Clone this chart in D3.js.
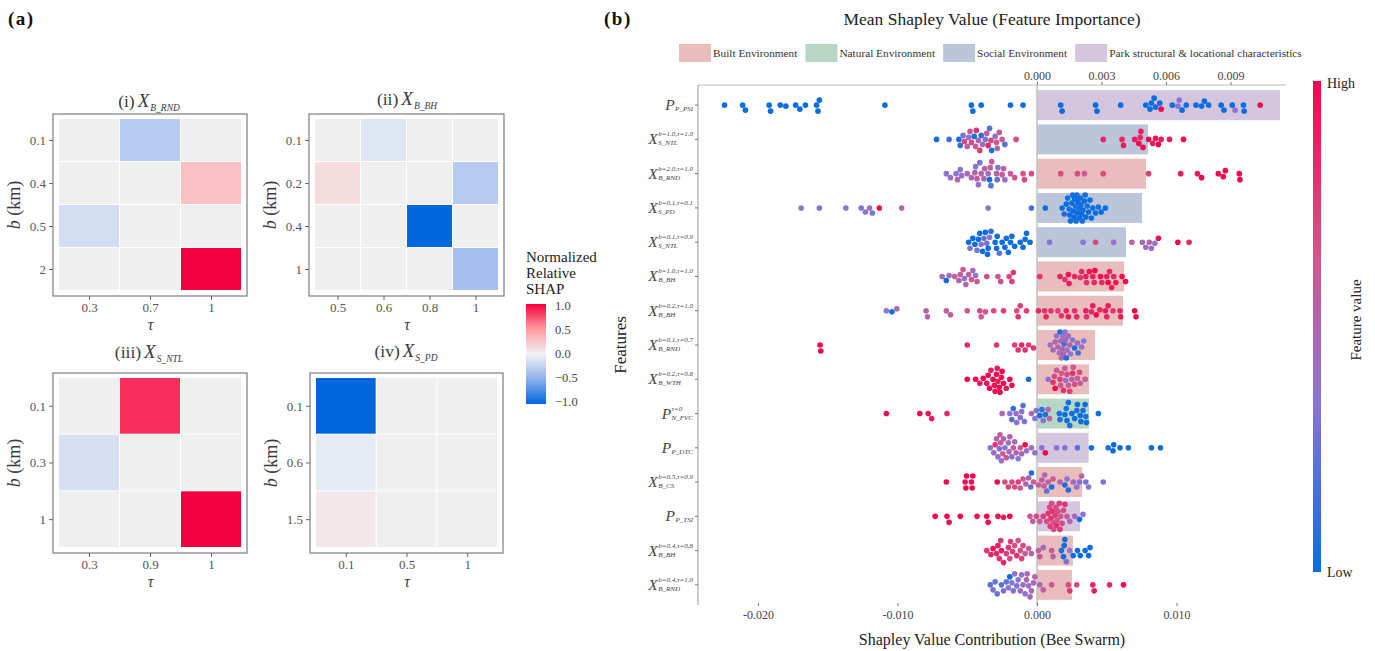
<!DOCTYPE html>
<html lang="en">
<head>
<meta charset="UTF-8">
<title>SHAP heatmaps and bee swarm</title>
<style>
  body { margin: 0; background: #fff; }
  svg text { font-family: "Liberation Serif", "DejaVu Serif", serif; }
</style>
</head>
<body>
<script src="https://cdn.jsdelivr.net/npm/d3@7"></script>
<script>
// ---------- panel (a): normalized relative SHAP per (b, tau) ----------
const rndB = [0.1, 0.4, 0.5, 2], rndTau = [0.3, 0.7, 1];
const rndVals = [[null, -0.3, null], [null, null, 0.28], [-0.16, null, null], [null, null, 1.0]];
const bhB = [0.1, 0.2, 0.4, 1], bhTau = [0.5, 0.6, 0.8, 1];
const bhVals = [[null, -0.1, null, null], [0.12, null, null, -0.3], [null, null, -1.0, null], [null, null, null, -0.38]];
const ntlB = [0.1, 0.3, 1], ntlTau = [0.3, 0.9, 1];
const ntlVals = [[null, 0.85, null], [-0.14, null, null], [null, null, 1.0]];
const pdB = [0.1, 0.6, 1.5], pdTau = [0.1, 0.5, 1];
const pdVals = [[-1.0, null, null], [-0.06, null, null], [0.06, null, null]];
const legendTicks = [1.0, 0.5, 0.0, -0.5, -1.0];

// ---------- panel (b): features, mean |SHAP| (x1e-3) and bee swarm ----------
const featBase = ["P", "X", "X", "X", "X", "X", "X", "X", "X", "P", "P", "X", "P", "X", "X"];
const featSup = ["", "b=1.0,τ=1.0", "b=2.0,τ=1.0", "b=0.1,τ=0.1", "b=0.1,τ=0.9", "b=1.0,τ=1.0", "b=0.2,τ=1.0",
  "b=0.1,τ=0.7", "b=0.2,τ=0.8", "τ=0", "", "b=0.5,τ=0.9", "", "b=0.4,τ=0.8", "b=0.4,τ=1.0"];
const featSub = ["P_PSI", "S_NTL", "B_RND", "S_PD", "S_NTL", "B_BH", "B_BH", "B_RND", "B_WTH", "N_FVC",
  "P_DTC", "B_CS", "P_TSI", "B_BH", "B_RND"];
const featGroup = ["Park", "Social", "Built", "Social", "Social", "Built", "Built", "Built", "Built", "Natural",
  "Park", "Built", "Park", "Built", "Built"];
const meanAbsShap = [11.3, 5.16, 5.07, 4.88, 4.14, 4.05, 4.0, 2.7, 2.42, 2.42, 2.4, 2.1, 2.0, 1.67, 1.63];
const groupKeys = ["Built", "Natural", "Social", "Park"];
const groupNames = ["Built Environment", "Natural Environment", "Social Environment", "Park structural & locational characteristics"];
const groupColors = ["#eabdbd", "#b8d6c5", "#bcc6db", "#d5c6e0"];
const topTicks = [0, 3, 6, 9];
const bottomTicks = [-20, -10, 0, 10];

// each point: [SHAP value x1e-3, normalized feature value 0..1]
const swarm = [
  [[-22.4,0],[-21.1,0],[-20.9,0],[-19.2,0],[-19.1,0],[-18.4,0],[-18.0,0],[-17.3,0],[-17.0,0],[-16.6,0],[-15.8,0],[-15.7,0],[-15.6,0],[-10.9,0],[-4.7,0],[-4.6,0],[-4.0,0],[-1.9,0],[-1.0,0],[1.7,0],[1.8,0],[4.2,0],[4.3,0],[6.0,0],[7.8,0],[8.1,0],[8.2,0],[8.4,0],[8.5,0],[8.8,0],[8.9,1],[9.7,0],[10.1,0.35],[10.2,0.35],[10.4,0],[10.7,0],[11.4,0],[11.8,0],[12.0,0],[12.3,0],[13.2,0],[13.4,0],[14.0,0],[14.2,0.35],[14.8,0],[14.85,0],[16.0,1]],
  [[-7.2,0],[-6.3,0.15],[-5.6,0.05],[-5.5,0.1],[-5.3,0.3],[-5.2,0.7],[-5.0,0.55],[-4.9,0.4],[-4.8,0.6],[-4.7,0.7],[-4.5,0.05],[-4.4,0.6],[-4.35,0.8],[-4.2,0.45],[-4.1,0.75],[-4.0,0.1],[-3.9,0.5],[-3.7,0.3],[-3.6,0.6],[-3.5,0.85],[-3.4,0.2],[-3.3,0.7],[-3.25,0.05],[-3.0,0.4],[-2.9,0.65],[-2.85,0.45],[-2.7,0.55],[-2.5,0.6],[-2.3,0.2],[-1.5,0.7],[4.75,0.85],[6.1,0.85],[6.2,0.9],[7.0,0.9],[7.3,1],[7.4,0.85],[7.45,0.9],[7.6,1],[8.0,1],[8.3,0.9],[8.5,0.95],[8.7,1],[8.9,0.9],[9.5,0.9],[10.5,1]],
  [[-6.5,0.35],[-6.2,0.4],[-5.8,0.35],[-5.7,0.5],[-5.5,0.35],[-5.4,0.4],[-5.0,0.5],[-4.7,0.45],[-4.45,0.55],[-4.4,0.35],[-4.3,0.6],[-4.2,0.4],[-4.1,0.3],[-4.0,0.5],[-3.8,0.5],[-3.75,0.55],[-3.5,0.45],[-3.4,0],[-3.35,0.55],[-3.3,0.2],[-3.25,0.6],[-2.9,0.55],[-2.85,0.25],[-2.8,0.3],[-2.5,0.6],[-2.4,0.55],[-2.3,0.4],[-1.9,0.6],[-1.6,0.65],[-1.0,0.65],[-0.9,0.7],[-0.4,0.7],[1.7,0.7],[2.9,0.7],[3.4,0.65],[4.75,0.7],[8.0,0.75],[10.3,0.9],[11.5,0.9],[11.8,1],[13.0,1],[13.35,1],[13.5,1],[14.5,1],[14.55,1]],
  [[-16.9,0.35],[-15.6,0.3],[-13.7,0.35],[-12.6,0.3],[-12.3,0.35],[-12.0,0.4],[-11.8,0.3],[-11.3,1],[-9.7,0.5],[-3.5,0.35],[-0.4,0.15],[0.6,0],[1.8,0],[1.95,0.05],[2.1,0],[2.2,0],[2.3,0.05],[2.35,0],[2.4,0],[2.5,0],[2.55,0.05],[2.6,0],[2.65,0],[2.7,0],[2.75,0.05],[2.8,0],[2.85,0],[2.9,0],[2.95,0],[3.0,0.05],[3.05,0],[3.1,0],[3.15,0],[3.2,0],[3.25,0.05],[3.3,0],[3.4,0],[3.45,0],[3.5,0],[3.6,0.05],[3.7,0],[3.8,0],[3.9,0],[4.0,0],[4.2,0],[4.4,0.05],[4.6,0],[4.9,0]],
  [[-4.9,0],[-4.8,0.3],[-4.6,0],[-4.45,0],[-4.3,0.3],[-4.2,0],[-4.1,0],[-4.0,0.35],[-3.9,0],[-3.8,0.25],[-3.7,0],[-3.6,0.3],[-3.55,0],[-3.5,0],[-3.4,0.35],[-3.3,0.1],[-3.0,0],[-2.9,0],[-2.85,0],[-2.7,0.2],[-2.5,0],[-2.3,0],[-2.2,0],[-2.05,0],[-1.9,0],[-1.8,0],[-1.6,0],[-1.2,0],[-1.0,0],[-0.85,0],[-0.75,0],[-0.5,0],[0.9,0.35],[3.3,0.35],[4.2,0.7],[5.5,0.4],[6.8,0.55],[7.55,0.45],[7.8,0.4],[8.05,0.5],[8.2,0.45],[8.45,0.35],[8.7,1],[10.1,1],[10.9,0.85]],
  [[-6.8,0.45],[-6.5,0],[-6.3,0.4],[-5.9,0.55],[-5.6,0.5],[-5.5,0.6],[-5.3,0.65],[-5.2,0.35],[-5.1,0.5],[-4.9,0.55],[-4.7,0.65],[-4.6,0.45],[-4.4,0.35],[-4.3,0.6],[-3.6,0.7],[-2.8,0.6],[-2.6,0.7],[-2.0,0.7],[-1.8,0.75],[-1.7,0.8],[0.2,0.8],[1.65,0.85],[2.0,0.8],[2.25,0.95],[2.3,0.9],[2.7,0.85],[3.1,0.8],[3.2,0.85],[3.5,0.9],[3.55,0.8],[3.75,0.95],[4.0,0.9],[4.1,0.85],[4.15,1],[4.55,1],[4.65,0.85],[5.0,0.9],[5.1,1],[5.2,0.85],[5.35,0.9],[5.5,0.85],[5.65,0.95],[6.1,1],[6.35,1]],
  [[-10.8,0.35],[-10.4,0],[-10.05,0.5],[-7.95,0.55],[-7.85,0.5],[-6.5,0.6],[-6.2,0.55],[-5.0,0.65],[-4.1,0.7],[-4.0,0.6],[-3.7,0.65],[-3.1,0.7],[-2.4,0.75],[-1.45,0.7],[-1.35,0.8],[-1.2,0.75],[-0.75,0.75],[0.1,0.85],[0.55,0.8],[0.65,0.85],[1.0,0.8],[1.5,0.75],[1.75,0.8],[2.1,0.85],[2.25,0.9],[2.7,0.8],[2.85,0.85],[3.5,0.9],[3.55,0.8],[3.9,0.85],[4.0,0.9],[4.25,1],[4.5,0.85],[4.9,0.9],[5.0,0.85],[5.1,0.9],[5.45,0.8],[5.95,0.85],[6.0,0.9],[7.0,1],[7.1,1]],
  [[-15.55,1],[-15.5,1],[-5.0,0.85],[-2.9,0.8],[-1.6,0.75],[-1.35,0.8],[-1.1,0.85],[-0.85,0.8],[-0.6,0.75],[-0.25,0.8],[0.95,0.4],[1.15,0.45],[1.3,0.55],[1.4,0.35],[1.5,0.5],[1.6,0.4],[1.65,0.05],[1.7,0.45],[1.75,0.5],[1.8,0.5],[1.85,0.4],[1.9,0.55],[1.95,0.15],[2.0,0.35],[2.05,0.45],[2.1,0.05],[2.15,0.4],[2.25,0.45],[2.35,0.5],[2.4,0.4],[2.55,0.35],[2.7,0.05],[2.9,0.4],[2.95,0.15],[3.2,0.4],[3.35,0.35]],
  [[-5.0,1],[-4.4,1],[-4.1,0.9],[-3.85,1],[-3.6,0.95],[-3.5,1],[-3.4,1],[-3.3,0.9],[-3.15,1],[-3.05,0.95],[-3.0,0.95],[-2.9,1],[-2.85,0.9],[-2.8,0.9],[-2.7,1],[-2.65,1],[-2.55,0.95],[-2.5,1],[-2.4,1],[-2.2,0.9],[-1.95,1],[-1.8,0.95],[-0.6,0],[0.8,0.35],[1.15,0.8],[1.25,0.7],[1.3,1],[1.4,0.6],[1.65,0.75],[1.7,0.6],[1.75,0.65],[1.9,0.8],[2.0,0.55],[2.05,0.45],[2.15,0.7],[2.25,0.6],[2.35,0.75],[2.5,0.5],[2.55,0.8],[2.6,0.65],[2.7,0.7],[2.9,0.6],[3.05,0.7],[3.1,0.55],[3.45,0.6]],
  [[-10.8,1],[-8.4,1],[-7.8,0.95],[-7.55,0.9],[-6.45,0.85],[-2.5,0.5],[-1.95,0.35],[-1.8,0.2],[-1.7,0.1],[-1.5,0.4],[-1.45,0.4],[-1.2,0.3],[-1.1,0.35],[-1.0,0.2],[-0.9,0.3],[-0.4,0.5],[-0.15,0.35],[-0.05,0.3],[0.2,0.05],[0.35,0.1],[0.45,0.35],[0.6,0.05],[0.8,0.5],[0.9,0.55],[1.6,0.05],[1.65,0.05],[2.0,0],[2.1,0.05],[2.15,0],[2.25,0],[2.35,0.05],[2.5,0],[2.7,0],[2.85,0.05],[2.9,0],[3.1,0],[3.15,0],[3.3,0.05],[3.45,0],[3.5,0.05],[3.55,0],[4.4,0]],
  [[-3.35,0.35],[-3.1,0.45],[-3.0,0.8],[-2.9,0.5],[-2.8,0.35],[-2.7,0.3],[-2.65,0.6],[-2.6,0.65],[-2.55,0.4],[-2.45,0.6],[-2.4,0.55],[-2.3,0.35],[-2.2,0.65],[-2.05,0.4],[-2.0,0.5],[-1.95,0.55],[-1.8,0.3],[-1.7,0.6],[-1.6,0.45],[-1.5,0.55],[-1.35,0.35],[-1.2,0.6],[-1.1,0.5],[-0.85,1],[-0.75,0.4],[-0.4,0.45],[-0.15,0.35],[0.35,0.35],[0.6,1],[1.4,0.35],[2.0,0.3],[2.9,0.2],[3.9,0],[5.1,0.05],[5.45,0],[5.5,0],[5.95,0],[6.55,0],[8.2,0],[8.85,0]],
  [[-6.5,1],[-5.15,0.95],[-5.1,1],[-5.05,1],[-4.7,0.95],[-4.65,1],[-4.6,1],[-2.85,1],[-2.3,0.7],[-2.05,0.75],[-1.8,0.7],[-1.6,0.7],[-1.35,0.75],[-1.2,0.65],[-1.0,0.65],[-0.8,0.55],[-0.6,0.5],[-0.45,0.2],[-0.4,0.05],[-0.25,0.6],[0.1,0.6],[0.35,0.55],[0.5,0.6],[0.55,0.5],[0.7,0.2],[0.8,0.55],[1.05,0.05],[1.15,0.6],[1.65,0.5],[2.0,0.05],[2.15,0.4],[2.25,0.05],[2.6,0.45],[2.85,0.35],[3.05,0.3],[3.2,0.55],[3.5,0.3],[3.7,0.35],[4.75,0.3]],
  [[-7.3,1],[-6.45,1],[-6.3,0.95],[-5.5,1],[-4.3,0.95],[-3.6,1],[-3.5,0.95],[-2.8,0.95],[-2.4,0.9],[-1.95,1],[-0.5,0.6],[-0.3,0.55],[-0.05,0.7],[0.2,0.6],[0.45,0.75],[0.7,0.7],[0.8,0.8],[0.9,0.7],[0.95,0.75],[1.0,0.8],[1.05,0.7],[1.1,0.8],[1.15,0.65],[1.2,0.7],[1.3,0.75],[1.35,0.7],[1.4,0.8],[1.45,0.65],[1.5,0.7],[1.6,0.75],[1.65,0.75],[1.7,0.65],[1.8,0.7],[1.9,0.7],[2.0,0.8],[2.15,0.6],[2.35,0.5],[2.7,0.45],[3.05,0],[3.3,0.35]],
  [[-3.6,0.8],[-3.3,0.85],[-3.15,1],[-2.9,0.85],[-2.8,0.9],[-2.7,0.8],[-2.6,0.8],[-2.55,0.9],[-2.4,0.85],[-2.2,0.75],[-2.05,0.8],[-1.95,0.7],[-1.9,0.75],[-1.75,0.75],[-1.6,0.7],[-1.45,0.8],[-1.35,0.65],[-1.2,0.7],[-1.1,0.75],[-1.0,0.7],[-0.85,0.6],[-0.6,0.65],[-0.4,0.5],[0.1,0.55],[0.2,0.6],[0.45,0.45],[1.05,0.6],[1.15,0.55],[1.75,0.05],[1.9,0],[1.95,0],[2.0,0],[2.1,0.3],[2.35,0.35],[2.6,0],[2.9,0],[3.1,0],[3.45,0],[3.7,0],[3.8,0]],
  [[-3.35,0.2],[-3.15,0.3],[-3.0,0.25],[-2.85,0.25],[-2.55,0.2],[-2.4,0.3],[-2.2,0.25],[-2.05,0.35],[-1.95,0],[-1.8,0.35],[-1.7,0.3],[-1.6,0.4],[-1.45,0.3],[-1.35,0.35],[-1.2,0.45],[-1.1,0.4],[-1.0,0.4],[-0.85,0.35],[-0.75,0.5],[-0.7,0.45],[-0.6,0.4],[-0.5,0.45],[-0.4,0.5],[-0.25,0.45],[-0.15,0.55],[0.2,0.5],[0.45,0.55],[1.05,0.65],[2.25,0.7],[2.35,0.75],[2.85,0.7],[4.0,0.85],[4.1,0.9],[5.2,0.85],[6.2,1]]
];

const W = 1375, H = 651;
const serif = '"Liberation Serif", "DejaVu Serif", serif';
const textCol = "#3a3a3a";

const svg = d3.select("body").append("svg")
  .attr("width", W).attr("height", H)
  .attr("viewBox", `0 0 ${W} ${H}`);

const heatColor = d3.scaleLinear().domain([-1, -0.5, 0, 0.5, 1])
  .range(["#0066dd", "#8fb0ee", "#f2f2f4", "#ff9a9e", "#f5003f"]);
const naColor = "#efefef";
const fvColor = d3.scaleLinear().domain([0, 0.35, 0.65, 1]).range(["#0a6de0", "#8b75d3", "#d3558b", "#f5054b"]);

// italic letter with optional superscript and subscript
function mathLabel(parent, base, sup, sub, o) {
  const g = parent.append("g");
  const bt = g.append("text").attr("font-size", o.base).attr("font-style", "italic")
    .attr("fill", o.fill).text(base);
  const bw = bt.node().getComputedTextLength();
  let w = bw;
  [[sup, o.supDy], [sub, o.subDy]].forEach(([s, dy]) => {
    if (!s) return;
    const t = g.append("text").attr("x", bw + o.gap).attr("y", dy)
      .attr("font-size", o.small).attr("font-style", "italic").attr("fill", o.fill).text(s);
    w = Math.max(w, bw + o.gap + t.node().getComputedTextLength());
  });
  return { g, w };
}

// ---------- panel (a) ----------
svg.append("text").attr("x", 8).attr("y", 25).attr("font-size", 19).attr("font-weight", "bold")
  .attr("letter-spacing", 1.5).attr("fill", "#111").text("(a)");

const heatPanels = [
  { tag: "(i)", sub: "B_RND", b: rndB, tau: rndTau, vals: rndVals, cells: [59, 242, 119, 291], tx: 149, ty: 107 },
  { tag: "(ii)", sub: "B_BH", b: bhB, tau: bhTau, vals: bhVals, cells: [315, 499, 119, 291], tx: 407, ty: 105 },
  { tag: "(iii)", sub: "S_NTL", b: ntlB, tau: ntlTau, vals: ntlVals, cells: [59, 242, 378, 548], tx: 149, ty: 358 },
  { tag: "(iv)", sub: "S_PD", b: pdB, tau: pdTau, vals: pdVals, cells: [316, 498, 378, 548], tx: 406, ty: 357 }
];

function drawHeat(p) {
  const [x0, x1, y0, y1] = p.cells;
  const g = svg.append("g");
  const x = d3.scaleBand().domain(p.tau).range([x0, x1]);
  const y = d3.scaleBand().domain(p.b).range([y0, y1]);
  const fl = x0 - 6, fr = x1 + 5, ft = y0 - 5, fb = y1 + 5;

  g.append("rect").attr("x", fl).attr("y", ft).attr("width", fr - fl).attr("height", fb - ft)
    .attr("fill", "#fff").attr("stroke", "#7c7c7c").attr("stroke-width", 1.2);

  const cells = [];
  p.vals.forEach((row, i) => row.forEach((v, j) => cells.push({ b: p.b[i], t: p.tau[j], v })));
  g.selectAll("rect.cell").data(cells).join("rect").attr("class", "cell")
    .attr("x", d => x(d.t)).attr("y", d => y(d.b))
    .attr("width", x.bandwidth() - 1).attr("height", y.bandwidth() - 1)
    .attr("fill", d => d.v == null ? naColor : heatColor(d.v));

  const ya = g.append("g").attr("transform", `translate(${fl},0)`)
    .call(d3.axisLeft(y).tickSize(4).tickPadding(3));
  const xa = g.append("g").attr("transform", `translate(0,${fb})`)
    .call(d3.axisBottom(x).tickSize(4).tickPadding(3));
  [ya, xa].forEach(a => {
    a.select(".domain").remove();
    a.selectAll("line").attr("stroke", "#666");
    a.selectAll("text").attr("font-family", serif).attr("font-size", 13).attr("fill", "#555");
  });

  // axis titles
  g.append("text").attr("transform", `translate(${fl - 33},${(y0 + y1) / 2}) rotate(-90)`)
    .attr("text-anchor", "middle").attr("font-size", 18).attr("fill", textCol)
    .call(t => { t.append("tspan").attr("font-style", "italic").text("b"); t.append("tspan").text(" (km)"); });
  g.append("text").attr("x", (x0 + x1) / 2).attr("y", fb + 34).attr("text-anchor", "middle")
    .attr("font-size", 16).attr("font-style", "italic").attr("fill", textCol).text("τ");

  // title
  const tg = g.append("g");
  const tag = tg.append("text").attr("font-size", 17.5).attr("fill", textCol).text(p.tag);
  const tw = tag.node().getComputedTextLength() + 3;
  const m = mathLabel(tg, "X", "", p.sub, { base: 19, small: 9.5, subDy: 4, gap: 1, fill: textCol });
  m.g.attr("transform", `translate(${tw},0)`);
  tg.attr("transform", `translate(${p.tx - (tw + m.w) / 2},${p.ty})`);
}
heatPanels.forEach(drawHeat);

// heat legend
const legA = svg.append("g");
["Normalized", "Relative", "SHAP"].forEach((s, i) =>
  legA.append("text").attr("x", 526).attr("y", 262 + i * 16).attr("font-size", 15).attr("fill", "#222").text(s));
const defs = svg.append("defs");
const gradA = defs.append("linearGradient").attr("id", "gradA").attr("x1", 0).attr("y1", 0).attr("x2", 0).attr("y2", 1);
legendTicks.forEach((v, i) => gradA.append("stop").attr("offset", i / (legendTicks.length - 1)).attr("stop-color", heatColor(v)));
const legY = d3.scaleLinear().domain([1, -1]).range([306, 402]);
legA.append("rect").attr("x", 526).attr("y", legY(1) - 2).attr("width", 20).attr("height", legY(-1) - legY(1) + 4)
  .attr("fill", "url(#gradA)");
legA.selectAll("text.tk").data(legendTicks).join("text").attr("class", "tk")
  .attr("x", 555).attr("y", d => legY(d) + 4).attr("font-size", 12.5).attr("fill", "#444")
  .text(d => d3.format(".1f")(d));

// ---------- panel (b) ----------
svg.append("text").attr("x", 604).attr("y", 25).attr("font-size", 19).attr("font-weight", "bold")
  .attr("letter-spacing", 1.5).attr("fill", "#111").text("(b)");

const pl = 698, pr = 1286, pt = 85, pb = 605;
const yRow = d3.scaleBand().domain(d3.range(featBase.length)).range([88, 602]).paddingInner(0.125).paddingOuter(0.0625);
const xBee = d3.scaleLinear().domain([-24.3, 17.85]).range([pl, pr]);
const xBar = d3.scaleLinear().domain([0, 11.58]).range([xBee(0), pr]);
const groupColor = d3.scaleOrdinal().domain(groupKeys).range(groupColors);

svg.append("text").attr("x", (pl + pr) / 2).attr("y", 25).attr("text-anchor", "middle")
  .attr("font-size", 17.5).attr("fill", "#222").text("Mean Shapley Value (Feature Importance)");

// group legend
let lx = 679;
groupKeys.forEach((k, i) => {
  svg.append("rect").attr("x", lx).attr("y", 44).attr("width", 32).attr("height", 18).attr("fill", groupColor(k));
  const t = svg.append("text").attr("x", lx + 34).attr("y", 57).attr("font-size", 11.3).attr("fill", "#333").text(groupNames[i]);
  lx += 34 + t.node().getComputedTextLength() + 8;
});

// bars
svg.append("g").selectAll("rect").data(meanAbsShap).join("rect")
  .attr("x", xBar(0)).attr("y", (d, i) => yRow(i))
  .attr("width", d => xBar(d) - xBar(0)).attr("height", yRow.bandwidth())
  .attr("fill", (d, i) => groupColor(featGroup[i]));

// frame lines and zero line
svg.append("line").attr("x1", pl).attr("x2", pr).attr("y1", pt).attr("y2", pt).attr("stroke", "#bdbdbd").attr("stroke-width", 1.2);
svg.append("line").attr("x1", pl).attr("x2", pl).attr("y1", pt).attr("y2", pb).attr("stroke", "#aaa").attr("stroke-width", 1.2);
svg.append("line").attr("x1", xBee(0)).attr("x2", xBee(0)).attr("y1", pt).attr("y2", pb).attr("stroke", "#c4c4c4").attr("stroke-width", 1.6);

// top axis (mean |SHAP|)
const ta = svg.append("g").attr("transform", `translate(0,${pt})`)
  .call(d3.axisTop(xBar).tickValues(topTicks).tickSize(3).tickPadding(2).tickFormat(d => (d / 1000).toFixed(3)));
// bottom axis (bee swarm)
const ba = svg.append("g").attr("transform", `translate(0,${pb - 2})`)
  .call(d3.axisBottom(xBee).tickValues(bottomTicks).tickSize(3).tickPadding(4).tickFormat(d => (d / 1000).toFixed(3)));
[ta, ba].forEach(a => {
  a.select(".domain").remove();
  a.selectAll("line").attr("stroke", "#777");
  a.selectAll("text").attr("font-family", serif).attr("font-size", 12).attr("fill", "#444");
});

// bee swarm layout: nearest free vertical offset
function swarmLayout(pts, cy, diam, maxOff) {
  const sorted = pts.map(([v, fv]) => ({ v, fv, x: xBee(v) })).sort((a, b) => a.x - b.x);
  const placed = [];
  sorted.forEach(p => {
    let best = 0, bestScore = -Infinity;
    for (let k = 0; k <= 2 * maxOff; k++) {
      const off = (k % 2 ? 1 : -1) * Math.ceil(k / 2);
      let minD = Infinity;
      for (const q of placed) {
        if (Math.abs(q.x - p.x) < diam) minD = Math.min(minD, Math.hypot(q.x - p.x, q.dy - off));
      }
      if (minD >= diam) { best = off; break; }
      if (minD > bestScore) { bestScore = minD; best = off; }
    }
    p.dy = best;
    placed.push(p);
  });
  sorted.forEach(p => { p.y = cy + p.dy; });
  return sorted;
}

const dots = svg.append("g");
swarm.forEach((pts, i) => {
  const cy = yRow(i) + yRow.bandwidth() / 2;
  const laid = swarmLayout(pts, cy, 5.6, 13);
  dots.append("g").selectAll("circle").data(laid).join("circle")
    .attr("cx", d => d.x).attr("cy", d => d.y).attr("r", 2.8)
    .attr("fill", d => fvColor(d.fv));
});

// feature labels and ticks
featBase.forEach((b, i) => {
  const cy = yRow(i) + yRow.bandwidth() / 2;
  svg.append("line").attr("x1", pl - 3).attr("x2", pl).attr("y1", cy).attr("y2", cy).attr("stroke", "#777");
  const m = mathLabel(svg, b, featSup[i], featSub[i], { base: 15.5, small: 7, supDy: -8, subDy: 1, gap: 0.5, fill: "#444" });
  m.g.attr("transform", `translate(${pl - 5 - m.w},${cy + 5})`);
});

svg.append("text").attr("transform", `translate(626,${(pt + pb) / 2}) rotate(-90)`)
  .attr("text-anchor", "middle").attr("font-size", 17).attr("fill", "#222").text("Features");
svg.append("text").attr("x", (pl + pr) / 2).attr("y", 645).attr("text-anchor", "middle")
  .attr("font-size", 16).attr("fill", "#222").text("Shapley Value Contribution (Bee Swarm)");

// feature value colour bar
const gradB = defs.append("linearGradient").attr("id", "gradB").attr("x1", 0).attr("y1", 1).attr("x2", 0).attr("y2", 0);
fvColor.domain().forEach(v => gradB.append("stop").attr("offset", v).attr("stop-color", fvColor(v)));
svg.append("rect").attr("x", 1313).attr("y", 81).attr("width", 8).attr("height", 491).attr("fill", "url(#gradB)");
svg.append("text").attr("x", 1327).attr("y", 88).attr("font-size", 14).attr("fill", "#222").text("High");
svg.append("text").attr("x", 1327).attr("y", 577).attr("font-size", 14).attr("fill", "#222").text("Low");
svg.append("text").attr("transform", "translate(1361,320) rotate(-90)").attr("text-anchor", "middle")
  .attr("font-size", 15).attr("fill", "#222").text("Feature value");
</script>
</body>
</html>
